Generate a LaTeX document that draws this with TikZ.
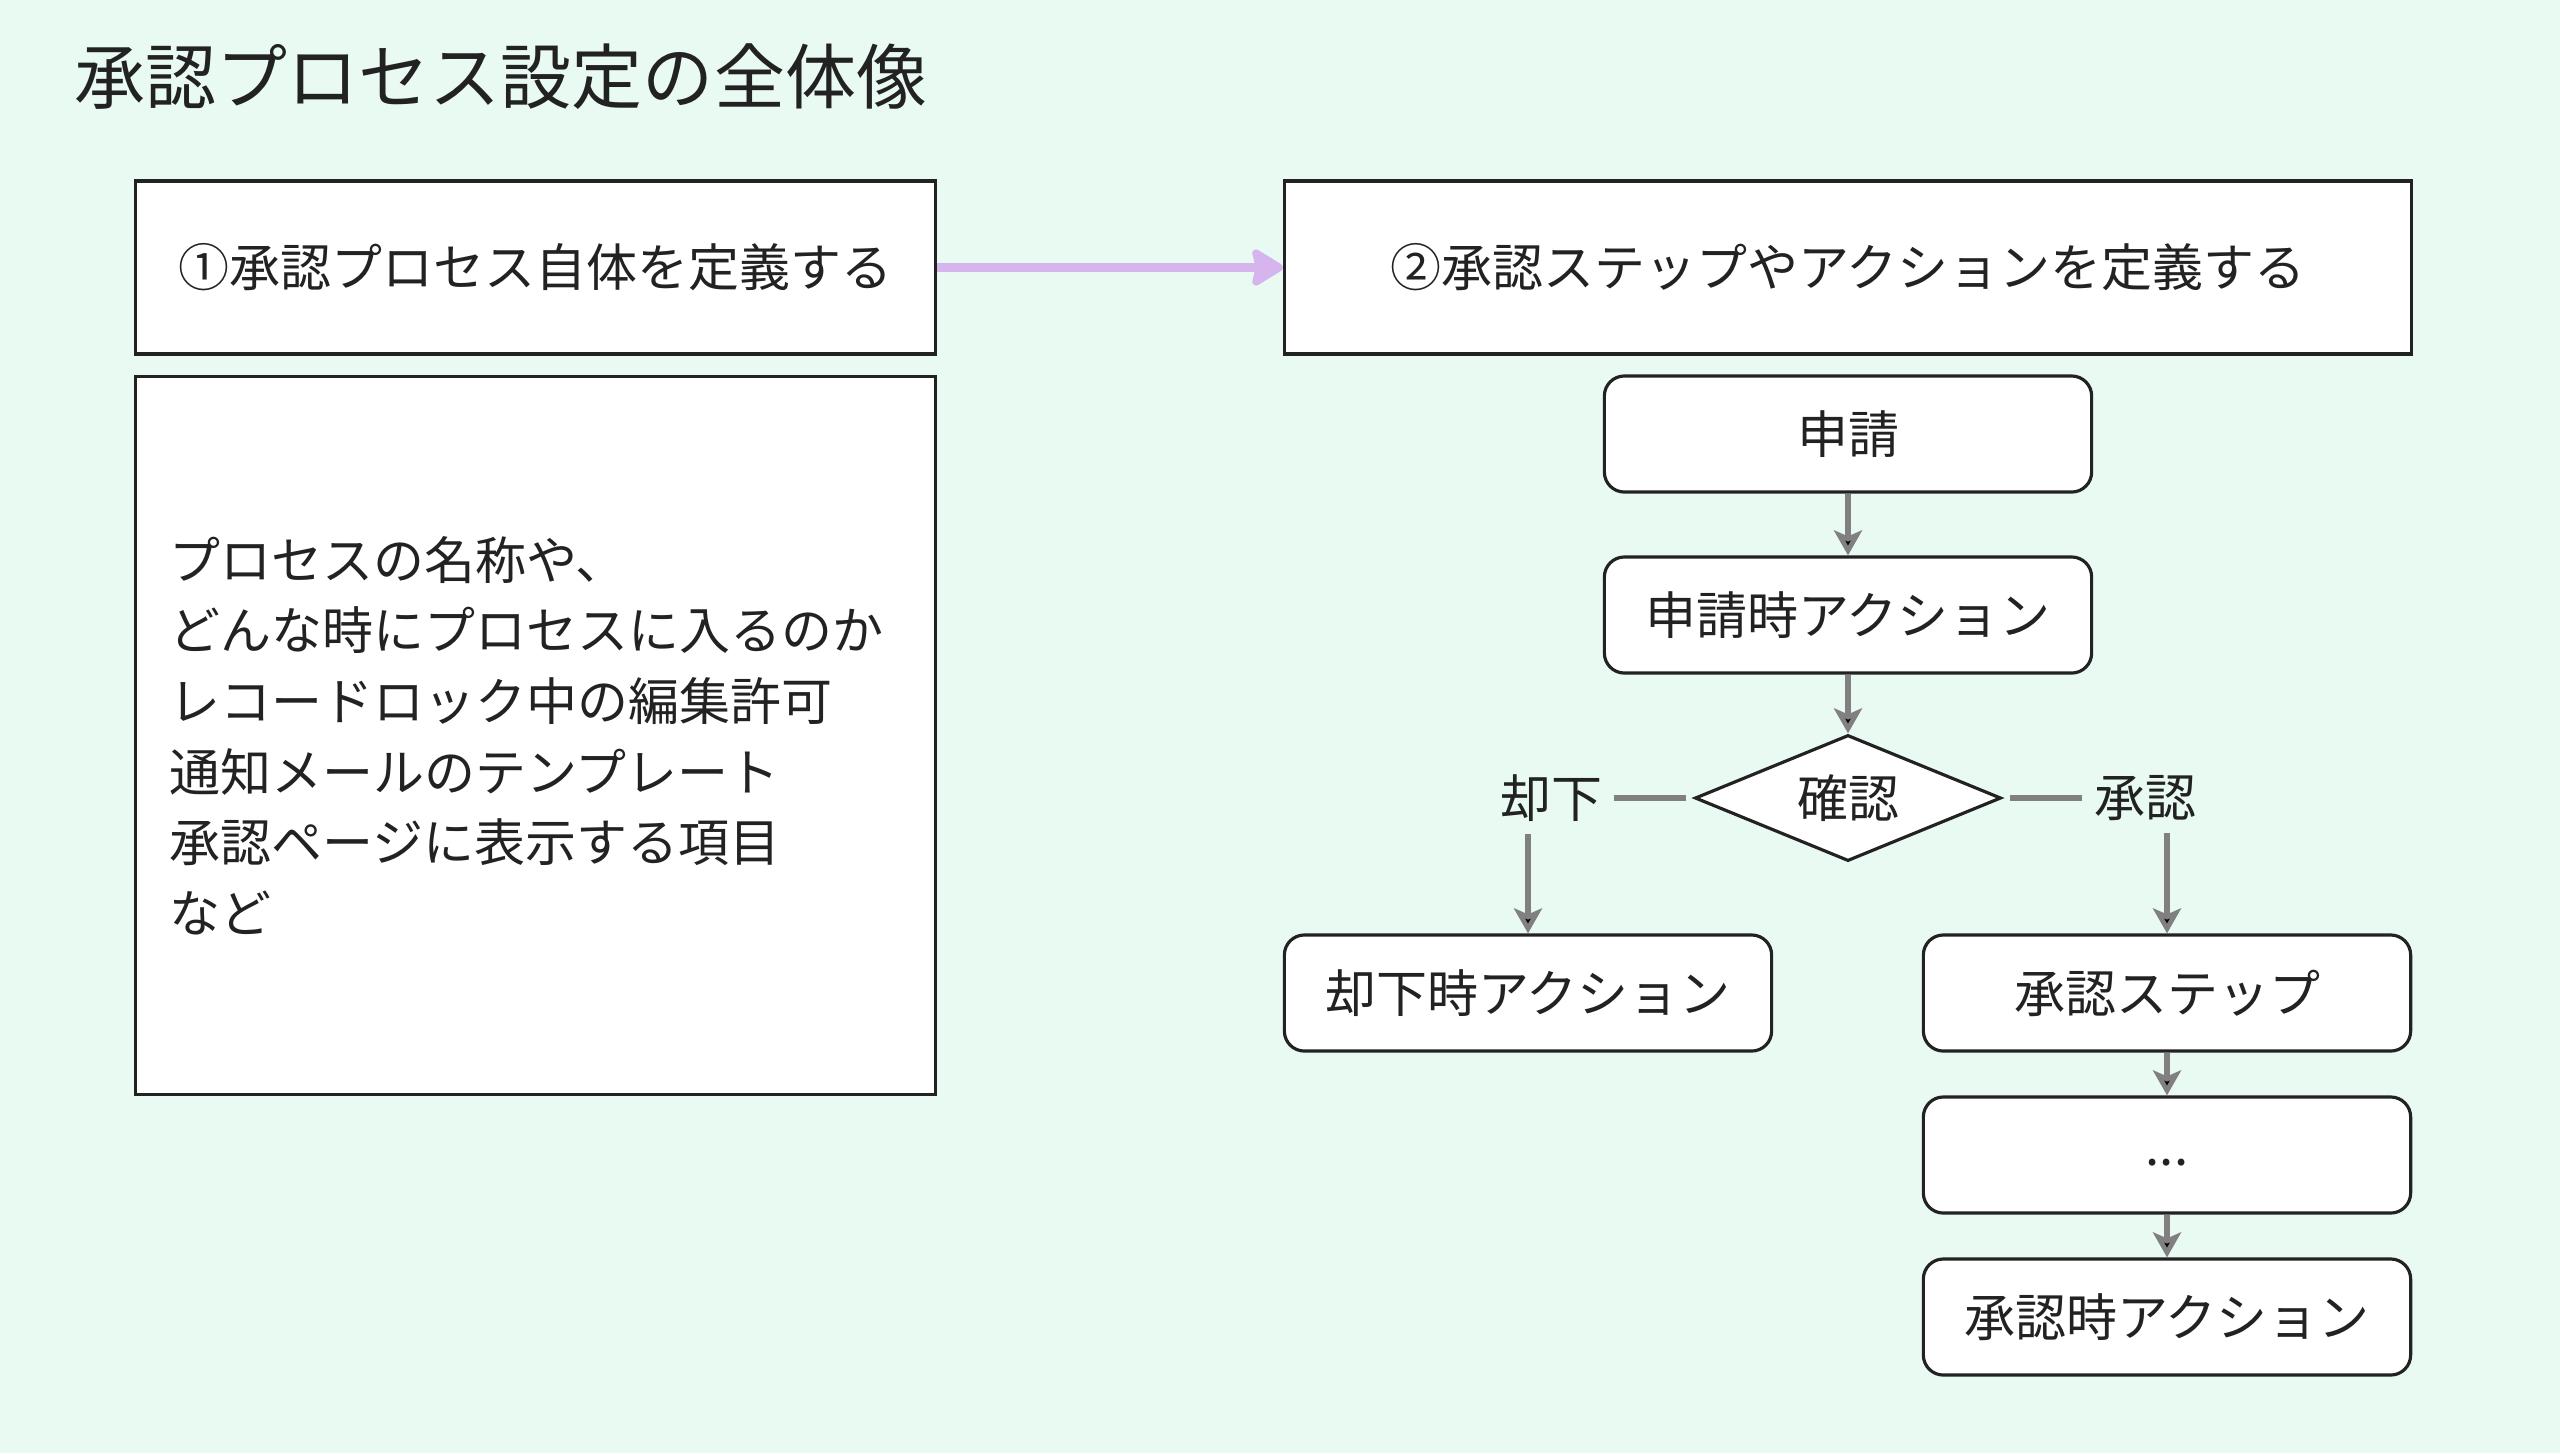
\documentclass[tikz,border=0pt]{standalone}
\usepackage{fontspec}
\setmainfont{Noto Sans CJK JP}
\usetikzlibrary{arrows.meta,shapes.geometric}

\definecolor{bgmint}{RGB}{232,250,242}
\definecolor{inkgray}{RGB}{34,34,34}
\definecolor{arrowgray}{RGB}{128,128,128}
\definecolor{lilac}{RGB}{214,180,238}

\begin{document}
\begin{tikzpicture}[x=0.01cm,y=-0.01cm,>={Stealth[length=2.5mm,width=2.8mm,inset=0.6mm]},
                every node/.style={text=inkgray,font=\fontsize{14.5pt}{20.1pt}\selectfont},
                box node/.style={rectangle,draw=inkgray,fill=white,line width=0.9pt},
                flow node/.style={box node,rounded corners=0.2cm,minimum width=4.87cm,minimum height=1.16cm},
                flow line/.style={draw=arrowgray,line width=1.5pt}]
                \fill[bgmint] (0,0) rectangle (2560,1453);
                \useasboundingbox (0,0) rectangle (2560,1453);

                \node[anchor=west,inner sep=0pt,font=\fontsize{20.2pt}{24pt}\selectfont] (title) at (74,77) {承認プロセス設定の全体像};

                % left column
                \node[box node,minimum width=8cm,minimum height=7.17cm,text width=7.32cm,inner xsep=0.34cm,align=left] (detail) at (535.5,735.5)
                  {プロセスの名称や、\\どんな時にプロセスに入るのか\\レコードロック中の編集許可\\通知メールのテンプレート\\承認ページに表示する項目\\など};
                \node[box node,minimum width=8cm,minimum height=1.73cm] (define) at (535.5,267.5) {①承認プロセス自体を定義する};

                % right column
                \node[box node,minimum width=11.26cm,minimum height=1.73cm] (steps) at (1848,267.5) {②承認ステップやアクションを定義する};
                \node[flow node] (apply) at (1848,434) {申請};
                \node[flow node] (applyact) at (1848,615) {申請時アクション};
                \node[diamond,aspect=2.43,draw=inkgray,fill=white,line width=0.9pt,minimum width=3.06cm,minimum height=1.26cm,inner sep=0pt] (check) at (1848,798) {確認};
                \node (rejlbl) at (1551,798) {却下};
                \node (applbl) at (2145,798) {承認};
                \node[flow node] (rejact) at (1528,993) {却下時アクション};
                \node[flow node] (stepone) at (2167,993) {承認ステップ};
                \node[flow node] (more) at (2167,1155) {\raisebox{-0.1cm}[0pt][0pt]{...}};
                \node[flow node] (appract) at (2167,1317) {承認時アクション};

                \draw[lilac,line width=2.6pt,-{Stealth[round,length=3.6mm,width=4.3mm,inset=0.5mm]}] (define) -- (steps);

                \path[flow line]
                (apply) edge[->] (applyact)
                (applyact) edge[->] (check)
                (check.west) edge[shorten <=0.07cm] (rejlbl)
                (check.east) edge[shorten <=0.07cm] (applbl)
                (rejlbl.south -| rejact.north) edge[->] (rejact.north)
                (applbl.south -| stepone.north) edge[->] (stepone.north)
                (stepone) edge[->] (more)
                (more) edge[->] (appract)
                ;
\end{tikzpicture}
\end{document}
